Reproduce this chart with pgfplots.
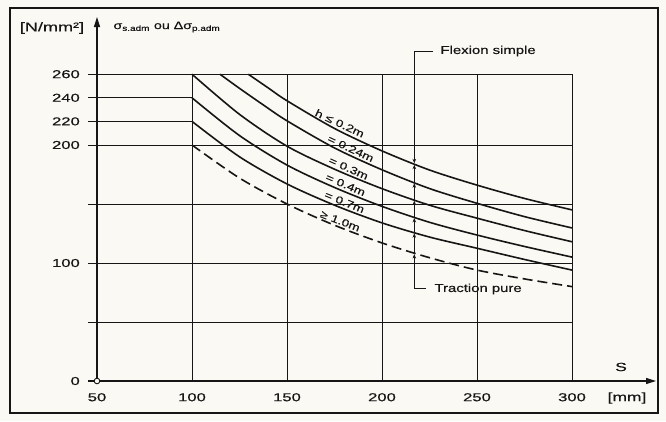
\documentclass[border=0pt]{standalone}
\usepackage{pgfplots}
\pgfplotsset{compat=1.18}
\usepackage{fontspec}
\setmainfont{Liberation Sans}[FakeStretch=1.3, FakeBold=0.5]
\newfontfamily\numfont{Liberation Sans}[FakeStretch=1.45, FakeBold=0.5]
\usetikzlibrary{arrows.meta}
\definecolor{ink}{RGB}{22,22,22}
\definecolor{paper}{RGB}{250,249,243}
\begin{document}
\begin{tikzpicture}[x=1bp,y=1bp]
\fill[paper] (0,0) rectangle (666,421);
\path[use as bounding box] (0,0) rectangle (666,421);
\draw[ink, line width=1.2bp] (10,8) rectangle (658,413);
\begin{axis}[at={(97bp,40bp)}, anchor=south west, scale only axis,
  width=475bp, height=306.8bp, xmin=50, xmax=300, ymin=0, ymax=260,
  clip=false, axis line style={draw=none}, tick style={draw=none},
  xtick={50,100,150,200,250,300}, xticklabels={50,100,150,200,250,300},
  ytick={0,100,200,220,240,260}, yticklabels={0,100,200,220,240,260},
  ticklabel style={font=\numfont\fontsize{11.5}{13}\selectfont, text=ink, inner sep=0pt},
  xticklabel style={anchor=north, yshift=-12bp},
  yticklabel style={anchor=east, xshift=-17bp},
  /pgf/number format/assume math mode=true]
% grid
\draw[ink, line width=0.9bp] (axis cs:45.3,50) -- (axis cs:300,50);
\draw[ink, line width=0.9bp] (axis cs:45.3,100) -- (axis cs:300,100);
\draw[ink, line width=0.9bp] (axis cs:45.3,150) -- (axis cs:300,150);
\draw[ink, line width=0.9bp] (axis cs:45.3,200) -- (axis cs:300,200);
\draw[ink, line width=0.9bp] (axis cs:45.3,220) -- (axis cs:100,220);
\draw[ink, line width=0.9bp] (axis cs:45.3,240) -- (axis cs:100,240);
\draw[ink, line width=0.9bp] (axis cs:45.3,260) -- (axis cs:300,260);
\draw[ink, line width=0.9bp] (axis cs:100,0) -- (axis cs:100,260);
\draw[ink, line width=0.9bp] (axis cs:150,0) -- (axis cs:150,260);
\draw[ink, line width=0.9bp] (axis cs:200,0) -- (axis cs:200,260);
\draw[ink, line width=0.9bp] (axis cs:250,0) -- (axis cs:250,260);
\draw[ink, line width=0.9bp] (axis cs:300,0) -- (axis cs:300,260);
% curves
\addplot[ink, line width=1.6bp, smooth] coordinates {(129.6,260) (140,248.5) (150,237.5) (175,214) (200,195) (225,178.8) (250,166) (275,154.7) (300,145)};
\addplot[ink, line width=1.6bp, smooth] coordinates {(114.7,260) (125,248) (137.5,234) (150,220.5) (175,197.5) (200,179) (225,163.1) (250,150.6) (275,139.3) (300,129.7)};
\addplot[ink, line width=1.6bp, smooth] coordinates {(100,260) (125,226) (150,199) (175,179.5) (200,163) (225,149) (250,138) (275,127.5) (300,118)};
\addplot[ink, line width=1.6bp, smooth] coordinates {(100,240) (125,208) (150,183) (175,164) (200,148) (225,134.5) (250,123.7) (275,114) (300,105)};
\addplot[ink, line width=1.6bp, smooth] coordinates {(100,220) (125,190) (150,167) (175,149) (200,134) (225,122) (250,112.5) (275,103) (300,94)};
\addplot[ink, line width=1.6bp, smooth, dash pattern=on 10bp off 5bp] coordinates {(100,200) (125,172) (150,150) (175,132) (200,117) (225,104.5) (250,94) (275,86.5) (300,80)};
% curve labels (sitting just above their curves)
\node[anchor=south, inner sep=2.6bp, rotate=-25, text=ink, font=\fontsize{10.5}{12}\selectfont] at (axis cs:176.3,213.3) {h ≤ 0.2m};
\node[anchor=south, inner sep=2.6bp, rotate=-25, text=ink, font=\fontsize{10.5}{12}\selectfont] at (axis cs:182.1,192.0) {= 0.24m};
\node[anchor=south, inner sep=2.6bp, rotate=-24, text=ink, font=\fontsize{10.5}{12}\selectfont] at (axis cs:181,175.3) {= 0.3m};
\node[anchor=south, inner sep=2.6bp, rotate=-23, text=ink, font=\fontsize{10.5}{12}\selectfont] at (axis cs:179.5,161.2) {= 0.4m};
\node[anchor=south, inner sep=2.6bp, rotate=-22, text=ink, font=\fontsize{10.5}{12}\selectfont] at (axis cs:179,146.5) {= 0.7m};
\node[anchor=south, inner sep=2.6bp, rotate=-21, text=ink, font=\fontsize{10.5}{12}\selectfont] at (axis cs:176.8,130.5) {≥ 1.0m};
% annotation lines
\draw[ink, line width=0.9bp, -{Stealth[length=4.5bp,width=3.5bp]}] (axis cs:226.8,279.7) -- (axis cs:217,279.7) -- (axis cs:217,184.5);
\draw[ink, line width=0.8bp, -{Stealth[length=4.5bp,width=3.5bp]}] (axis cs:217,168.2) -- (axis cs:217,183.3);
\draw[ink, line width=0.8bp, -{Stealth[length=4.5bp,width=3.5bp]}] (axis cs:217,153.5) -- (axis cs:217,167.6);
\draw[ink, line width=0.8bp, -{Stealth[length=4.5bp,width=3.5bp]}] (axis cs:217,138.8) -- (axis cs:217,152.9);
\draw[ink, line width=0.8bp, -{Stealth[length=4.5bp,width=3.5bp]}] (axis cs:217,125.8) -- (axis cs:217,138.2);
\draw[ink, line width=0.8bp, -{Stealth[length=4.5bp,width=3.5bp]}] (axis cs:217,108.2) -- (axis cs:217,125.2);
\draw[ink, line width=0.9bp, -{Stealth[length=4.5bp,width=3.5bp]}] (axis cs:223.2,78.8) -- (axis cs:217,78.8) -- (axis cs:217,107.6);
\end{axis}
% axes
\draw[ink, line width=1.2bp, -{Triangle[length=10bp,width=6bp]}] (88,40) -- (656,40);
\draw[ink, line width=1.2bp, -{Triangle[length=10bp,width=6bp]}] (97,40) -- (97,404);
\draw[ink, line width=0.9bp, fill=paper] (97,40) circle (2.8bp);
% texts
\node[text=ink, font=\numfont\fontsize{12.5}{14}\selectfont] at (52,393) {[N/mm²]};
\node[anchor=west, text=ink, font=\fontsize{11}{13}\selectfont] at (110,394) {σ\textsubscript{s.adm} ou Δσ\textsubscript{p.adm}};
\node[text=ink, font=\numfont\fontsize{12}{13}\selectfont] at (621,54) {S};
\node[text=ink, font=\numfont\fontsize{12}{13}\selectfont] at (627,23) {[mm]};
\node[anchor=west, text=ink, font=\fontsize{11.5}{13}\selectfont] at (437,370) {Flexion simple};
\node[anchor=west, text=ink, font=\fontsize{11.5}{13}\selectfont] at (431,132) {Traction pure};
\end{tikzpicture}
\end{document}
